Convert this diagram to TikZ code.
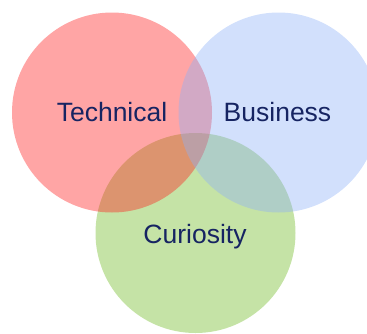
\documentclass[tikz,border=0pt]{standalone}
\usepackage{fontspec}
\setmainfont{Liberation Sans}
\usepackage{tikz}
\definecolor{techRed}{RGB}{255, 30, 30}
\definecolor{busBlue}{RGB}{142, 177, 247}
\definecolor{curGreen}{RGB}{110, 185, 32}
\definecolor{labelNavy}{RGB}{22, 36, 98}

\begin{document}
\begin{tikzpicture}[x=1pt, y=-1pt, line join=round, line cap=round]
\useasboundingbox (0,0) rectangle (367,333);
\coordinate (T) at (112.0,112.5);
\coordinate (B) at (278.5,112.5);
\coordinate (C) at (195.5,233.0);
\fill[curGreen, fill opacity=0.4] (C) circle[radius=100];
\fill[techRed, fill opacity=0.4] (T) circle[radius=100];
\fill[busBlue, fill opacity=0.4] (B) circle[radius=100];
\node[font=\fontsize{26.5}{30}\selectfont, text=labelNavy, inner sep=0pt, anchor=base] (tech) at (112.0,121.0) {Technical};
\node[font=\fontsize{26.5}{30}\selectfont, text=labelNavy, inner sep=0pt, anchor=base] (bus) at (277.5,121.0) {Business};
\node[font=\fontsize{26.5}{30}\selectfont, text=labelNavy, inner sep=0pt, anchor=base] (cur) at (195.0,243.0) {Curiosity};
\end{tikzpicture}
\end{document}
